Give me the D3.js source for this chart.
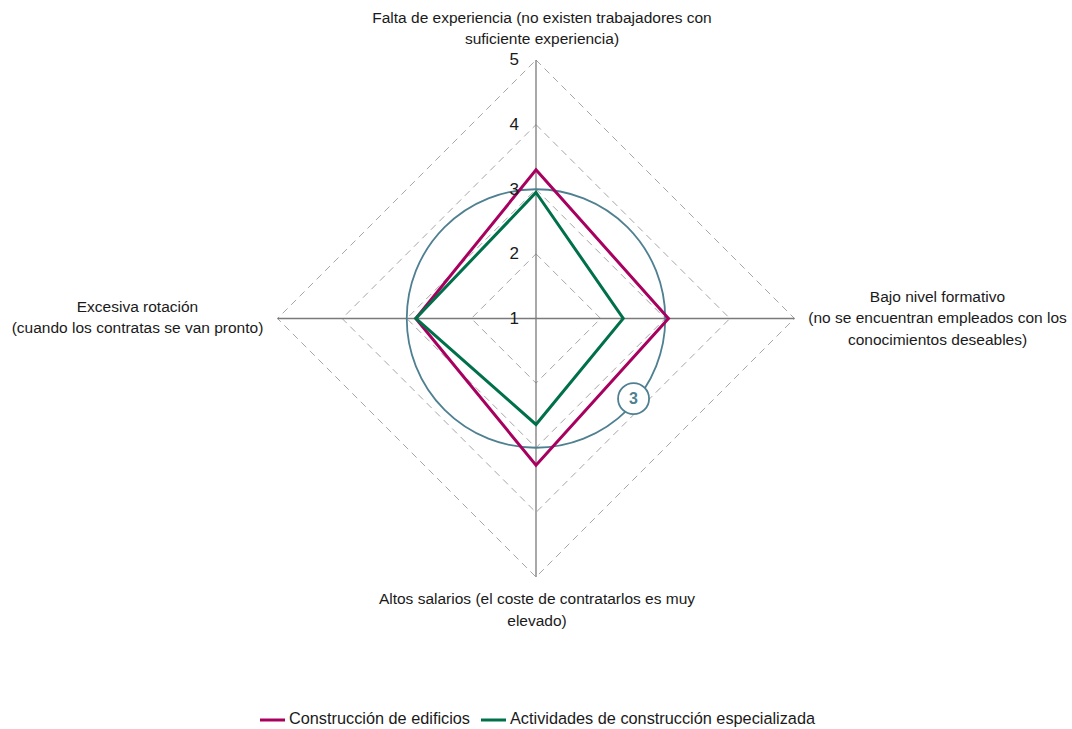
<!DOCTYPE html>
<html>
<head>
<meta charset="utf-8">
<script src="https://cdn.jsdelivr.net/npm/d3@7"></script>
<style>
  body { margin: 0; background: #fff; }
  svg { display: block; font-family: "Liberation Sans", Arial, sans-serif; }
</style>
</head>
<body>
<div id="chart"></div>
<script>
// categories (clockwise from top), wrapped as in the original
const categories = [
  ["Falta de experiencia (no existen trabajadores con", "suficiente experiencia)"],
  ["Bajo nivel formativo", "(no se encuentran empleados con los", "conocimientos deseables)"],
  ["Altos salarios (el coste de contratarlos es muy", "elevado)"],
  ["Excesiva rotación", "(cuando los contratas se van pronto)"]
];
const seriesNames = ["Construcción de edificios", "Actividades de construcción especializada"];
const edificios = [3.3, 3.05, 3.27, 2.86];
const especializada = [2.95, 2.35, 2.64, 2.86];
const tickValues = [1, 2, 3, 4, 5];
const gridLevels = [2, 3, 4, 5];
const refLevel = 3;

const colors = ["#a8005f", "#00704a"];
const refColor = "#4f8091";

const width = 1072, height = 729;
const cx = 536, cy = 318.5;

let svg = d3.select("#chart").append("svg")
  .attr("width", width)
  .attr("height", height);

let r = d3.scaleLinear().domain([1, 5]).range([0, 258.5]);
let angle = d3.scaleLinear().domain([0, categories.length]).range([-Math.PI / 2, Math.PI * 1.5]);

function pt(i, v) {
  let a = angle(i);
  return [cx + r(v) * Math.cos(a), cy + r(v) * Math.sin(a)];
}

let g = svg.append("g");

// dashed diamond gridlines
g.selectAll("path.grid")
  .data(gridLevels)
  .join("path")
  .attr("class", "grid")
  .attr("fill", "none")
  .attr("stroke", "#a6a6a6")
  .attr("stroke-width", 1)
  .attr("stroke-dasharray", "7,5")
  .attr("d", (lv) => d3.line()(categories.map((c, i) => pt(i, lv))) + "Z");

// axes
g.selectAll("line.axis")
  .data(categories)
  .join("line")
  .attr("class", "axis")
  .attr("x1", cx).attr("y1", cy)
  .attr("x2", (d, i) => pt(i, 5)[0])
  .attr("y2", (d, i) => pt(i, 5)[1])
  .attr("stroke", "#7a7a7a")
  .attr("stroke-width", 1.3);

// reference circle at 3
g.append("circle")
  .attr("cx", cx).attr("cy", cy)
  .attr("r", r(refLevel))
  .attr("fill", "none")
  .attr("stroke", refColor)
  .attr("stroke-width", 1.8);

// series polygons
let lineGen = d3.line();
[edificios, especializada].forEach(function (vals, k) {
  g.append("path")
    .attr("fill", "none")
    .attr("stroke", colors[k])
    .attr("stroke-width", 3)
    .attr("stroke-linejoin", "miter")
    .attr("d", lineGen(vals.map((v, i) => pt(i, v))) + "Z");
});

// badge with the reference value
let badgeAngle = 39.4 * Math.PI / 180;
let bx = cx + (r(refLevel) - 3) * Math.cos(badgeAngle);
let by = cy + (r(refLevel) - 3) * Math.sin(badgeAngle);
g.append("circle")
  .attr("cx", bx).attr("cy", by).attr("r", 15.5)
  .attr("fill", "#fff")
  .attr("stroke", refColor)
  .attr("stroke-width", 1.8);
g.append("text")
  .attr("x", bx).attr("y", by + 1)
  .attr("text-anchor", "middle")
  .attr("dominant-baseline", "middle")
  .attr("font-size", 16)
  .attr("font-weight", "bold")
  .attr("fill", refColor)
  .text(refLevel);

// tick labels on the vertical axis
g.selectAll("text.tick")
  .data(tickValues)
  .join("text")
  .attr("class", "tick")
  .attr("x", cx - 17)
  .attr("y", (d) => cy - r(d) + 1)
  .attr("text-anchor", "end")
  .attr("dominant-baseline", "middle")
  .attr("font-size", 17)
  .attr("fill", "#1a1a1a")
  .text((d) => d);

// category labels
const lh = 21.5;
const labelPos = [
  (lines) => ({ x: cx + 6, y: pt(0, 5)[1] - 20 - (lines.length - 1) * lh }),
  (lines) => ({ x: pt(1, 5)[0] + 143, y: cy - 21 }),
  (lines) => ({ x: cx + 1, y: pt(2, 5)[1] + 23 }),
  (lines) => ({ x: pt(3, 5)[0] - 140, y: cy - 11 })
];
categories.forEach(function (lines, i) {
  let p = labelPos[i](lines);
  let t = g.append("text")
    .attr("text-anchor", "middle")
    .attr("font-size", 15.5)
    .attr("fill", "#1a1a1a");
  lines.forEach(function (s, j) {
    t.append("tspan")
      .attr("x", p.x)
      .attr("y", p.y + j * lh)
      .attr("dominant-baseline", "middle")
      .text(s);
  });
});

// legend
let legend = svg.append("g").attr("transform", "translate(260,720)");
let lx = 0;
seriesNames.forEach(function (name, k) {
  let item = legend.append("g").attr("transform", "translate(" + lx + ",0)");
  item.append("line")
    .attr("x1", 0).attr("x2", 25)
    .attr("y1", 0).attr("y2", 0)
    .attr("stroke", colors[k])
    .attr("stroke-width", 3);
  let txt = item.append("text")
    .attr("x", 29).attr("y", 0)
    .attr("dominant-baseline", "middle")
    .attr("font-size", 16.3)
    .attr("fill", "#1a1a1a")
    .text(name);
  lx += 29 + txt.node().getComputedTextLength() + 11;
});
</script>
</body>
</html>
